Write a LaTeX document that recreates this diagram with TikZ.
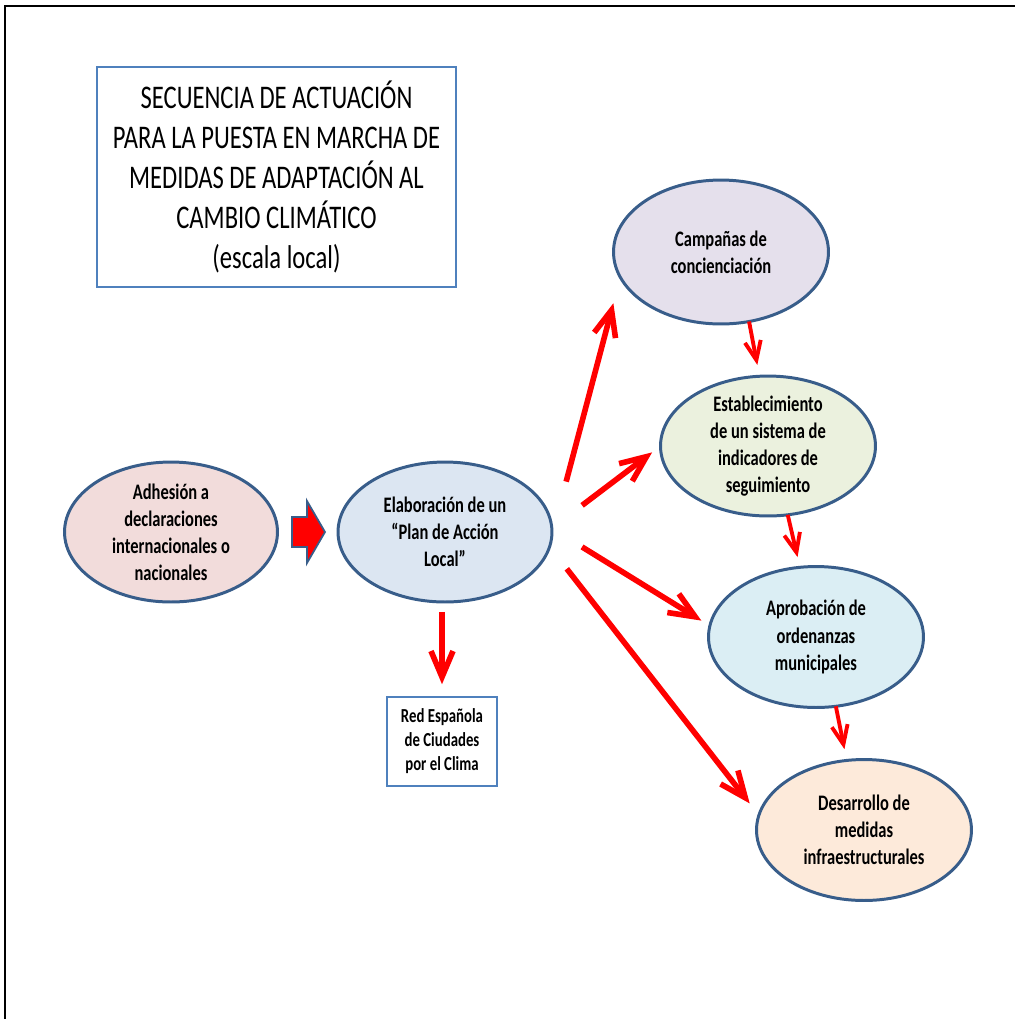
\documentclass[tikz,border=0pt]{standalone}
\usepackage{fontspec}
\setmainfont{Carlito}[FakeStretch=0.745]
\usetikzlibrary{arrows.meta,shapes.geometric}
\definecolor{boxblue}{HTML}{4F81BD}
\definecolor{ringblue}{HTML}{385D8A}
\definecolor{adhfill}{HTML}{F2DCDB}
\definecolor{elabfill}{HTML}{DCE6F2}
\definecolor{campfill}{HTML}{E5E0EC}
\definecolor{estfill}{HTML}{EBF1DE}
\definecolor{aprofill}{HTML}{DBEEF4}
\definecolor{desfill}{HTML}{FDEADA}
\tikzset{bubble/.style={ellipse, draw=ringblue, line width=1.7pt, minimum width=4.3cm, minimum height=2.8cm, inner sep=0pt, outer sep=0pt},
  bubbletext/.style={align=center, font=\fontsize{12.6}{15.4}\selectfont\bfseries},
  titlebox/.style={draw=boxblue, line width=1.6pt, minimum width=7.18cm, minimum height=4.4cm, align=center, font=\fontsize{18.8}{22.8}\selectfont},
  redbox/.style={draw=boxblue, line width=0.9pt, minimum width=2.2cm, minimum height=1.78cm, align=center, font=\fontsize{11.3}{13.7}\selectfont\bfseries},
  bigarrow/.style={red, line width=3.2pt, -{Straight Barb[length=0.52cm,width=0.44cm]}},
  smallarrow/.style={red, line width=2.2pt, -{Straight Barb[length=0.38cm,width=0.32cm]}}}

\begin{document}
\begin{tikzpicture}[x=0.02cm, y=-0.02cm]
  \useasboundingbox (0,0) rectangle (1015,1019);
  \draw[line width=1.1pt] (5,1040) |- (1040,6);

  \node[titlebox] (title) at (276.5,177) {SECUENCIA DE ACTUACIÓN\\PARA LA PUESTA EN MARCHA DE\\MEDIDAS DE ADAPTACIÓN AL\\CAMBIO CLIMÁTICO\\(escala local)};

  \node[bubble, fill=adhfill, minimum width=4.26cm, label={[bubbletext]center:Adhesión a\\declaraciones\\internacionales o\\nacionales}] (adh) at (171,532) {};
  \node[bubble, fill=elabfill, minimum width=4.28cm, label={[bubbletext]center:Elaboración de un\\“Plan de Acción\\Local”}] (elab) at (445,532) {};
  \node[bubble, fill=campfill, minimum height=2.88cm, label={[bubbletext]center:Campañas de\\concienciación}] (camp) at (721,252) {};
  \node[bubble, fill=estfill, label={[bubbletext]center:Establecimiento\\de un sistema de\\indicadores de\\seguimiento}] (est) at (768,446) {};
  \node[bubble, fill=aprofill, minimum height=2.82cm, label={[bubbletext]center:Aprobación de\\ordenanzas\\municipales}] (apro) at (816,637) {};
  \node[bubble, fill=desfill, minimum height=2.82cm, label={[bubbletext]center:Desarrollo de\\medidas\\infraestructurales}] (des) at (864,830) {};

  \node[redbox] (red) at (442,741.5) {Red Española\\de Ciudades\\por el Clima};

  % bloque entre adhesion y plan
  \draw[fill=red, draw=ringblue, line width=1pt] (292,517) -- (307,517) -- (307,501) -- (325,532) -- (307,563) -- (307,547) -- (292,547) -- cycle;

  \draw[bigarrow, shorten <=1.12cm, shorten >=0.54cm] (elab.-2) -- (camp.194);
  \draw[bigarrow, shorten <=0.76cm, shorten >=0.21cm] (elab.2) -- (est.180);
  \draw[bigarrow, shorten <=0.71cm, shorten >=0.2cm] (elab.2) -- (apro.174);
  \draw[bigarrow, shorten <=0.56cm, shorten >=0.3cm] (elab.-8) -- (des.172);
  \draw[bigarrow, shorten <=0.2cm, shorten >=0.24cm] (red.north |- elab.south) -- (red.north);

  \draw[smallarrow, shorten >=0.23cm] (camp.-68) -- (est.97);
  \draw[smallarrow, shorten >=0.21cm] (est.-74) -- (apro.103.5);
  \draw[smallarrow, shorten >=0.23cm] (apro.-74) -- (des.104.4);
\end{tikzpicture}
\end{document}
